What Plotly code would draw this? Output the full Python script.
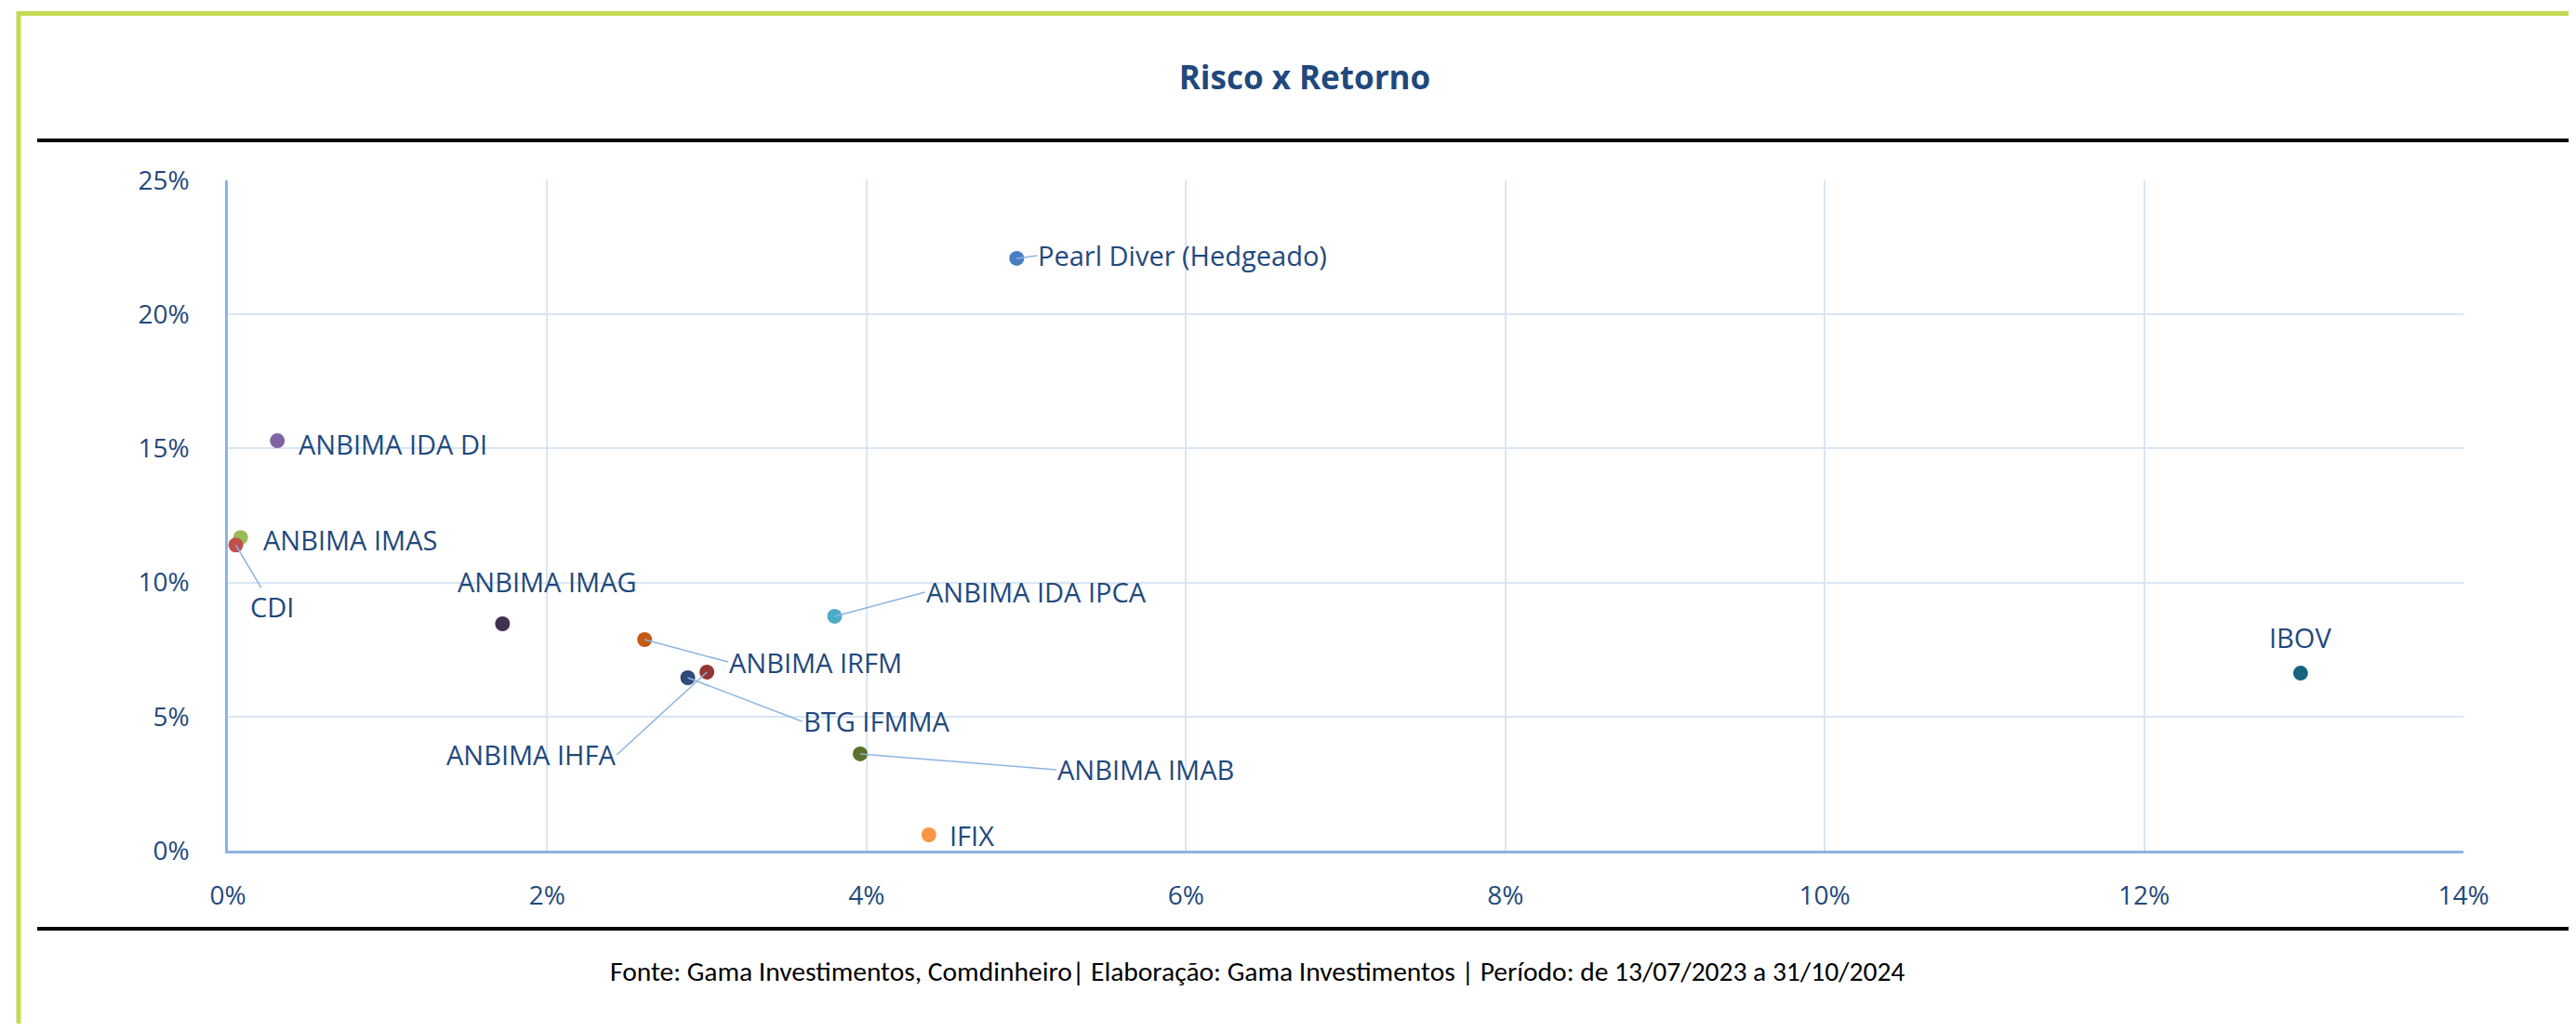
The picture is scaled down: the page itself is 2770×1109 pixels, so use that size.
import plotly.graph_objects as go

# Risco (volatilidade, eixo x) x Retorno (eixo y), em fração
NAMES = [
    "Pearl Diver (Hedgeado)", "ANBIMA IDA DI", "ANBIMA IMAS", "CDI",
    "ANBIMA IMAG", "ANBIMA IRFM", "ANBIMA IHFA", "BTG IFMMA",
    "ANBIMA IDA IPCA", "ANBIMA IMAB", "IFIX", "IBOV",
]
RISK = [0.0494, 0.0031, 0.0008, 0.0005, 0.0172, 0.0261, 0.0300, 0.0288,
        0.0380, 0.0396, 0.0439, 0.1298]
RETURN = [0.2209, 0.1529, 0.1168, 0.1140, 0.0846, 0.0787, 0.0666, 0.0645,
          0.0874, 0.0361, 0.0059, 0.0662]
COLORS = ["#4A7EC4", "#8064A2", "#9BBB59", "#C0504D", "#403151", "#C55A11",
          "#943634", "#2E4B7A", "#4BACC6", "#5A7229", "#F79646", "#17657D"]

X_TICKS = [0, 0.02, 0.04, 0.06, 0.08, 0.10, 0.12, 0.14]
Y_TICKS = [0, 0.05, 0.10, 0.15, 0.20, 0.25]

TITLE = "Risco x Retorno"
FOOTER = ("Fonte: Gama Investimentos, Comdinheiro| Elaboração: Gama Investimentos "
          "| Período: de 13/07/2023 a 31/10/2024")

# label placement: (dx, dy in screen px from the dot, xanchor, leader line)
LABEL_POS = {
    "Pearl Diver (Hedgeado)": (22, -3, "left", True),
    "ANBIMA IDA DI": (21, 3, "left", False),
    "ANBIMA IMAS": (22, 2, "left", False),
    "CDI": (39, 66, "center", True),
    "ANBIMA IMAG": (48, -46, "center", False),
    "ANBIMA IRFM": (90, 24, "left", True),
    "ANBIMA IHFA": (-97, 89, "right", True),
    "BTG IFMMA": (123, 47, "left", True),
    "ANBIMA IDA IPCA": (97, -26, "left", True),
    "ANBIMA IMAB": (211, 17, "left", True),
    "IFIX": (20, 1, "left", False),
    "IBOV": (0, -39, "center", False),
}

# page is 2770x1109; the browser puts the figure 8px in from the corner
PAGE_W, PAGE_H = 2770, 1109
OFF = 8
W, H = PAGE_W - 2 * OFF, PAGE_H - 2 * OFF
PLOT_L, PLOT_R, PLOT_T, PLOT_B = 245 - OFF, 2649 - OFF, 194 - OFF, 915 - OFF
TEXT_BLUE = "#1F497D"
FONT = "Open Sans"


def px(x):
    # page pixel -> paper fraction
    return (x - OFF - PLOT_L) / (PLOT_R - PLOT_L)


def py(y):
    return (PLOT_B - (y - OFF)) / (PLOT_B - PLOT_T)


fig = go.Figure()
fig.add_trace(
    go.Scatter(
        x=RISK,
        y=RETURN,
        mode="markers",
        text=NAMES,
        marker={"size": 16, "color": COLORS, "line": {"width": 0}},
        hovertemplate="%{text}<br>Risco: %{x:.2%}<br>Retorno: %{y:.2%}<extra></extra>",
        showlegend=False,
    )
)

annotations = []
for name, x, y in zip(NAMES, RISK, RETURN):
    dx, dy, anchor, leader = LABEL_POS[name]
    ann = {
        "text": name,
        "x": x,
        "y": y,
        "xref": "x",
        "yref": "y",
        "xanchor": anchor,
        "yanchor": "middle",
        "font": {"family": FONT, "size": 29, "color": TEXT_BLUE},
    }
    if leader:
        ann.update(showarrow=True, ax=dx, ay=dy, arrowhead=0, arrowwidth=1.5,
                   arrowcolor="#8DB4E2", standoff=0, borderpad=0)
    else:
        ann.update(showarrow=False, xshift=dx, yshift=-dy)
    annotations.append(ann)

annotations.append({
    "text": FOOTER,
    "x": px(1352),
    "y": py(1045),
    "xref": "paper",
    "yref": "paper",
    "showarrow": False,
    "xanchor": "center",
    "yanchor": "middle",
    "font": {"family": "Liberation Sans Narrow, Carlito, Liberation Sans",
             "size": 29.5, "color": "#000000"},
})

shapes = [
    # green frame (top and left edges visible)
    {"type": "rect", "xref": "paper", "yref": "paper",
     "x0": px(20), "x1": px(2800), "y0": py(14.5), "y1": py(1140),
     "line": {"color": "#C2D955", "width": 5}},
    # black rules
    {"type": "line", "xref": "paper", "yref": "paper",
     "x0": px(40), "x1": px(2762), "y0": py(151), "y1": py(151),
     "line": {"color": "#000000", "width": 4}},
    {"type": "line", "xref": "paper", "yref": "paper",
     "x0": px(40), "x1": px(2762), "y0": py(999), "y1": py(999),
     "line": {"color": "#000000", "width": 4}},
]

fig.update_layout(
    width=W,
    height=H,
    paper_bgcolor="#FFFFFF",
    plot_bgcolor="#FFFFFF",
    margin={"l": PLOT_L, "r": W - PLOT_R, "t": PLOT_T, "b": H - PLOT_B, "pad": 0},
    title={
        "text": f"<b>{TITLE}</b>",
        "x": (1403 - OFF) / W,
        "xanchor": "center",
        "y": 1 - (84 - OFF) / H,
        "yanchor": "middle",
        "font": {"family": FONT, "size": 35, "color": TEXT_BLUE},
    },
    font={"family": FONT, "color": TEXT_BLUE},
    xaxis={
        "range": [0, 0.14],
        "tickvals": X_TICKS,
        "tickformat": ".0%",
        "showgrid": True,
        "gridcolor": "#D9E5F4",
        "gridwidth": 2,
        "zeroline": False,
        "showline": True,
        "linecolor": "#8DB4E2",
        "linewidth": 2.5,
        "ticks": "",
        "ticklabelstandoff": 22,
        "tickfont": {"family": FONT, "size": 28, "color": TEXT_BLUE},
    },
    yaxis={
        "range": [0, 0.25],
        "tickvals": Y_TICKS,
        "tickformat": ".0%",
        "showgrid": True,
        "gridcolor": "#D9E5F4",
        "gridwidth": 2,
        "zeroline": False,
        "showline": True,
        "linecolor": "#8DB4E2",
        "linewidth": 2.5,
        "ticks": "",
        "ticklabelstandoff": 33,
        "tickfont": {"family": FONT, "size": 28, "color": TEXT_BLUE},
    },
    annotations=annotations,
    shapes=shapes,
)

fig.write_html("out.html")
